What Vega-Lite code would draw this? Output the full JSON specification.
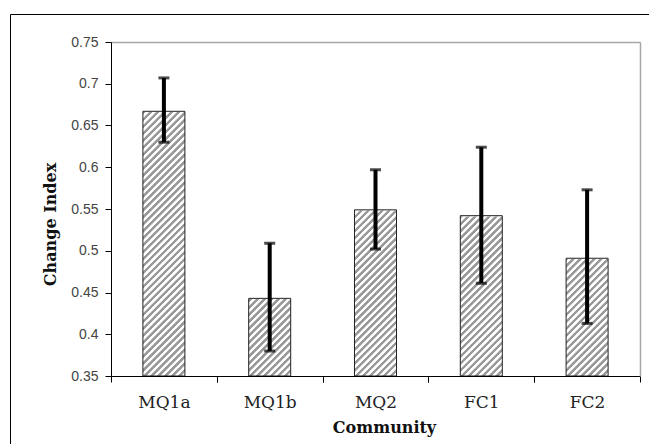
{
  "$schema": "https://vega.github.io/schema/vega-lite/v6.json",
  "width": 639,
  "height": 430,
  "autosize": "none",
  "padding": {"left": 10, "top": 14, "right": 0, "bottom": 0},
  "data": {
    "values": [
      {"community": "MQ1a", "value": 0.667, "lo": 0.630, "hi": 0.707},
      {"community": "MQ1b", "value": 0.443, "lo": 0.380, "hi": 0.509},
      {"community": "MQ2", "value": 0.549, "lo": 0.502, "hi": 0.597},
      {"community": "FC1", "value": 0.542, "lo": 0.461, "hi": 0.624},
      {"community": "FC2", "value": 0.491, "lo": 0.413, "hi": 0.573}
    ]
  },
  "resolve": {"axis": {"x": "independent", "y": "independent"}},
  "layer": [
    {
      "mark": {
        "type": "bar",
        "fill": {
          "gradient": "linear", "x1": 0, "y1": 0, "x2": 0.13936, "y2": 1.10823,
          "stops": [
            {"offset":0,"color":"#999"},{"offset":0.00741,"color":"#999"},{"offset":0.00926,"color":"#fff"},{"offset":0.01667,"color":"#fff"},
            {"offset":0.01852,"color":"#999"},{"offset":0.02593,"color":"#999"},{"offset":0.02778,"color":"#fff"},{"offset":0.03519,"color":"#fff"},
            {"offset":0.03704,"color":"#999"},{"offset":0.04444,"color":"#999"},{"offset":0.0463,"color":"#fff"},{"offset":0.0537,"color":"#fff"},
            {"offset":0.05556,"color":"#999"},{"offset":0.06296,"color":"#999"},{"offset":0.06481,"color":"#fff"},{"offset":0.07222,"color":"#fff"},
            {"offset":0.07407,"color":"#999"},{"offset":0.08148,"color":"#999"},{"offset":0.08333,"color":"#fff"},{"offset":0.09074,"color":"#fff"},
            {"offset":0.09259,"color":"#999"},{"offset":0.1,"color":"#999"},{"offset":0.10185,"color":"#fff"},{"offset":0.10926,"color":"#fff"},
            {"offset":0.11111,"color":"#999"},{"offset":0.11852,"color":"#999"},{"offset":0.12037,"color":"#fff"},{"offset":0.12778,"color":"#fff"},
            {"offset":0.12963,"color":"#999"},{"offset":0.13704,"color":"#999"},{"offset":0.13889,"color":"#fff"},{"offset":0.1463,"color":"#fff"},
            {"offset":0.14815,"color":"#999"},{"offset":0.15556,"color":"#999"},{"offset":0.15741,"color":"#fff"},{"offset":0.16481,"color":"#fff"},
            {"offset":0.16667,"color":"#999"},{"offset":0.17407,"color":"#999"},{"offset":0.17593,"color":"#fff"},{"offset":0.18333,"color":"#fff"},
            {"offset":0.18519,"color":"#999"},{"offset":0.19259,"color":"#999"},{"offset":0.19444,"color":"#fff"},{"offset":0.20185,"color":"#fff"},
            {"offset":0.2037,"color":"#999"},{"offset":0.21111,"color":"#999"},{"offset":0.21296,"color":"#fff"},{"offset":0.22037,"color":"#fff"},
            {"offset":0.22222,"color":"#999"},{"offset":0.22963,"color":"#999"},{"offset":0.23148,"color":"#fff"},{"offset":0.23889,"color":"#fff"},
            {"offset":0.24074,"color":"#999"},{"offset":0.24815,"color":"#999"},{"offset":0.25,"color":"#fff"},{"offset":0.25741,"color":"#fff"},
            {"offset":0.25926,"color":"#999"},{"offset":0.26667,"color":"#999"},{"offset":0.26852,"color":"#fff"},{"offset":0.27593,"color":"#fff"},
            {"offset":0.27778,"color":"#999"},{"offset":0.28519,"color":"#999"},{"offset":0.28704,"color":"#fff"},{"offset":0.29444,"color":"#fff"},
            {"offset":0.2963,"color":"#999"},{"offset":0.3037,"color":"#999"},{"offset":0.30556,"color":"#fff"},{"offset":0.31296,"color":"#fff"},
            {"offset":0.31481,"color":"#999"},{"offset":0.32222,"color":"#999"},{"offset":0.32407,"color":"#fff"},{"offset":0.33148,"color":"#fff"},
            {"offset":0.33333,"color":"#999"},{"offset":0.34074,"color":"#999"},{"offset":0.34259,"color":"#fff"},{"offset":0.35,"color":"#fff"},
            {"offset":0.35185,"color":"#999"},{"offset":0.35926,"color":"#999"},{"offset":0.36111,"color":"#fff"},{"offset":0.36852,"color":"#fff"},
            {"offset":0.37037,"color":"#999"},{"offset":0.37778,"color":"#999"},{"offset":0.37963,"color":"#fff"},{"offset":0.38704,"color":"#fff"},
            {"offset":0.38889,"color":"#999"},{"offset":0.3963,"color":"#999"},{"offset":0.39815,"color":"#fff"},{"offset":0.40556,"color":"#fff"},
            {"offset":0.40741,"color":"#999"},{"offset":0.41481,"color":"#999"},{"offset":0.41667,"color":"#fff"},{"offset":0.42407,"color":"#fff"},
            {"offset":0.42593,"color":"#999"},{"offset":0.43333,"color":"#999"},{"offset":0.43519,"color":"#fff"},{"offset":0.44259,"color":"#fff"},
            {"offset":0.44444,"color":"#999"},{"offset":0.45185,"color":"#999"},{"offset":0.4537,"color":"#fff"},{"offset":0.46111,"color":"#fff"},
            {"offset":0.46296,"color":"#999"},{"offset":0.47037,"color":"#999"},{"offset":0.47222,"color":"#fff"},{"offset":0.47963,"color":"#fff"},
            {"offset":0.48148,"color":"#999"},{"offset":0.48889,"color":"#999"},{"offset":0.49074,"color":"#fff"},{"offset":0.49815,"color":"#fff"},
            {"offset":0.5,"color":"#999"},{"offset":0.50741,"color":"#999"},{"offset":0.50926,"color":"#fff"},{"offset":0.51667,"color":"#fff"},
            {"offset":0.51852,"color":"#999"},{"offset":0.52593,"color":"#999"},{"offset":0.52778,"color":"#fff"},{"offset":0.53519,"color":"#fff"},
            {"offset":0.53704,"color":"#999"},{"offset":0.54444,"color":"#999"},{"offset":0.5463,"color":"#fff"},{"offset":0.5537,"color":"#fff"},
            {"offset":0.55556,"color":"#999"},{"offset":0.56296,"color":"#999"},{"offset":0.56481,"color":"#fff"},{"offset":0.57222,"color":"#fff"},
            {"offset":0.57407,"color":"#999"},{"offset":0.58148,"color":"#999"},{"offset":0.58333,"color":"#fff"},{"offset":0.59074,"color":"#fff"},
            {"offset":0.59259,"color":"#999"},{"offset":0.6,"color":"#999"},{"offset":0.60185,"color":"#fff"},{"offset":0.60926,"color":"#fff"},
            {"offset":0.61111,"color":"#999"},{"offset":0.61852,"color":"#999"},{"offset":0.62037,"color":"#fff"},{"offset":0.62778,"color":"#fff"},
            {"offset":0.62963,"color":"#999"},{"offset":0.63704,"color":"#999"},{"offset":0.63889,"color":"#fff"},{"offset":0.6463,"color":"#fff"},
            {"offset":0.64815,"color":"#999"},{"offset":0.65556,"color":"#999"},{"offset":0.65741,"color":"#fff"},{"offset":0.66481,"color":"#fff"},
            {"offset":0.66667,"color":"#999"},{"offset":0.67407,"color":"#999"},{"offset":0.67593,"color":"#fff"},{"offset":0.68333,"color":"#fff"},
            {"offset":0.68519,"color":"#999"},{"offset":0.69259,"color":"#999"},{"offset":0.69444,"color":"#fff"},{"offset":0.70185,"color":"#fff"},
            {"offset":0.7037,"color":"#999"},{"offset":0.71111,"color":"#999"},{"offset":0.71296,"color":"#fff"},{"offset":0.72037,"color":"#fff"},
            {"offset":0.72222,"color":"#999"},{"offset":0.72963,"color":"#999"},{"offset":0.73148,"color":"#fff"},{"offset":0.73889,"color":"#fff"},
            {"offset":0.74074,"color":"#999"},{"offset":0.74815,"color":"#999"},{"offset":0.75,"color":"#fff"},{"offset":0.75741,"color":"#fff"},
            {"offset":0.75926,"color":"#999"},{"offset":0.76667,"color":"#999"},{"offset":0.76852,"color":"#fff"},{"offset":0.77593,"color":"#fff"},
            {"offset":0.77778,"color":"#999"},{"offset":0.78519,"color":"#999"},{"offset":0.78704,"color":"#fff"},{"offset":0.79444,"color":"#fff"},
            {"offset":0.7963,"color":"#999"},{"offset":0.8037,"color":"#999"},{"offset":0.80556,"color":"#fff"},{"offset":0.81296,"color":"#fff"},
            {"offset":0.81481,"color":"#999"},{"offset":0.82222,"color":"#999"},{"offset":0.82407,"color":"#fff"},{"offset":0.83148,"color":"#fff"},
            {"offset":0.83333,"color":"#999"},{"offset":0.84074,"color":"#999"},{"offset":0.84259,"color":"#fff"},{"offset":0.85,"color":"#fff"},
            {"offset":0.85185,"color":"#999"},{"offset":0.85926,"color":"#999"},{"offset":0.86111,"color":"#fff"},{"offset":0.86852,"color":"#fff"},
            {"offset":0.87037,"color":"#999"},{"offset":0.87778,"color":"#999"},{"offset":0.87963,"color":"#fff"},{"offset":0.88704,"color":"#fff"},
            {"offset":0.88889,"color":"#999"},{"offset":0.8963,"color":"#999"},{"offset":0.89815,"color":"#fff"},{"offset":0.90556,"color":"#fff"},
            {"offset":0.90741,"color":"#999"},{"offset":0.91481,"color":"#999"},{"offset":0.91667,"color":"#fff"},{"offset":0.92407,"color":"#fff"},
            {"offset":0.92593,"color":"#999"},{"offset":0.93333,"color":"#999"},{"offset":0.93519,"color":"#fff"},{"offset":0.94259,"color":"#fff"},
            {"offset":0.94444,"color":"#999"},{"offset":0.95185,"color":"#999"},{"offset":0.9537,"color":"#fff"},{"offset":0.96111,"color":"#fff"},
            {"offset":0.96296,"color":"#999"},{"offset":0.97037,"color":"#999"},{"offset":0.97222,"color":"#fff"},{"offset":0.97963,"color":"#fff"},
            {"offset":0.98148,"color":"#999"},{"offset":0.98889,"color":"#999"},{"offset":0.99074,"color":"#fff"},{"offset":0.99815,"color":"#fff"},
            {"offset":1,"color":"#999"}
          ]
        }
      },
      "encoding": {
        "x": {
          "field": "community", "type": "nominal", "sort": null,
          "scale": {"range": [101, 630], "paddingInner": 0.603, "paddingOuter": 0.3015},
          "axis": {
            "orient": "bottom", "offset": -68, "zindex": 1,
            "tickOffset": -52.9, "labelOffset": 52.9, "labelAngle": 0,
            "domainColor": "#000", "domainWidth": 1, "tickColor": "#000", "tickSize": 6, "tickWidth": 1,
            "labelFont": "DejaVu Serif", "labelFontSize": 17, "labelColor": "#222", "labelPadding": 12,
            "title": "Community", "titleFont": "DejaVu Serif", "titleFontSize": 16, "titleFontWeight": "bold",
            "titleColor": "#111", "titlePadding": 9, "titleX": 374
          }
        },
        "y": {
          "datum": 0.35, "type": "quantitative",
          "scale": {"domain": [0.35, 0.75], "range": [362, 28], "zero": false, "nice": false},
          "axis": {
            "orient": "left", "offset": -101, "zindex": 1, "grid": false,
            "values": [0.35, 0.4, 0.45, 0.5, 0.55, 0.6, 0.65, 0.7, 0.75], "format": ".2~f",
            "domainColor": "#000", "domainWidth": 1, "tickColor": "#000", "tickSize": 6, "tickWidth": 1,
            "labelFont": "Liberation Sans", "labelFontSize": 14, "labelColor": "#444", "labelPadding": 7,
            "title": "Change Index", "titleFont": "DejaVu Serif", "titleFontSize": 16, "titleFontWeight": "bold",
            "titleColor": "#111", "titlePadding": 12, "titleY": 210
          }
        },
        "y2": {"datum": 0.75}
      }
    },
    {
      "mark": {"type": "bar", "fill": "#fff", "stroke": "#fff", "strokeWidth": 1.5},
      "encoding": {
        "x": {
          "field": "community", "type": "nominal", "sort": null,
          "scale": {"range": [101, 630], "paddingInner": 0.603, "paddingOuter": 0.3015},
          "axis": {
            "orient": "top", "offset": -28, "zindex": 1, "labels": false, "ticks": false, "title": null,
            "domainColor": "#a6a6a6", "domainWidth": 1.5
          }
        },
        "y": {
          "field": "value", "type": "quantitative",
          "scale": {"domain": [0.35, 0.75], "range": [362, 28], "zero": false, "nice": false},
          "axis": {
            "orient": "right", "offset": -9, "zindex": 1, "labels": false, "ticks": false, "title": null, "grid": false,
            "domainColor": "#a6a6a6", "domainWidth": 1.5
          }
        },
        "y2": {"datum": 0.75}
      }
    },
    {
      "mark": {"type": "bar", "fillOpacity": 0, "stroke": "#222", "strokeWidth": 1},
      "encoding": {
        "x": {
          "field": "community", "type": "nominal", "sort": null,
          "scale": {"range": [101, 630], "paddingInner": 0.603, "paddingOuter": 0.3015},
          "axis": {
            "orient": "bottom", "offset": -68, "zindex": 1, "tickOffset": 52.9,
            "labels": false, "domain": false, "title": null,
            "tickColor": "#000", "tickSize": 6, "tickWidth": 1
          }
        },
        "y": {
          "field": "value", "type": "quantitative",
          "scale": {"domain": [0.35, 0.75], "range": [362, 28], "zero": false, "nice": false},
          "axis": null
        },
        "y2": {"datum": 0.35}
      }
    },
    {
      "mark": {"type": "rule", "color": "#000", "strokeWidth": 4},
      "encoding": {
        "x": {"field": "community", "type": "nominal", "sort": null, "axis": null},
        "y": {
          "field": "lo", "type": "quantitative",
          "scale": {"domain": [0.35, 0.75], "range": [362, 28], "zero": false, "nice": false},
          "axis": null
        },
        "y2": {"field": "hi"}
      }
    },
    {
      "mark": {"type": "tick", "color": "#000", "thickness": 3, "size": 11},
      "encoding": {
        "x": {"field": "community", "type": "nominal", "sort": null, "axis": null},
        "y": {
          "field": "lo", "type": "quantitative",
          "scale": {"domain": [0.35, 0.75], "range": [362, 28], "zero": false, "nice": false},
          "axis": null
        }
      }
    },
    {
      "mark": {"type": "tick", "color": "#000", "thickness": 3, "size": 11},
      "encoding": {
        "x": {"field": "community", "type": "nominal", "sort": null, "axis": null},
        "y": {
          "field": "hi", "type": "quantitative",
          "scale": {"domain": [0.35, 0.75], "range": [362, 28], "zero": false, "nice": false},
          "axis": null
        }
      }
    }
  ],
  "config": {
    "view": {"stroke": "#000", "strokeWidth": 1}
  }
}
